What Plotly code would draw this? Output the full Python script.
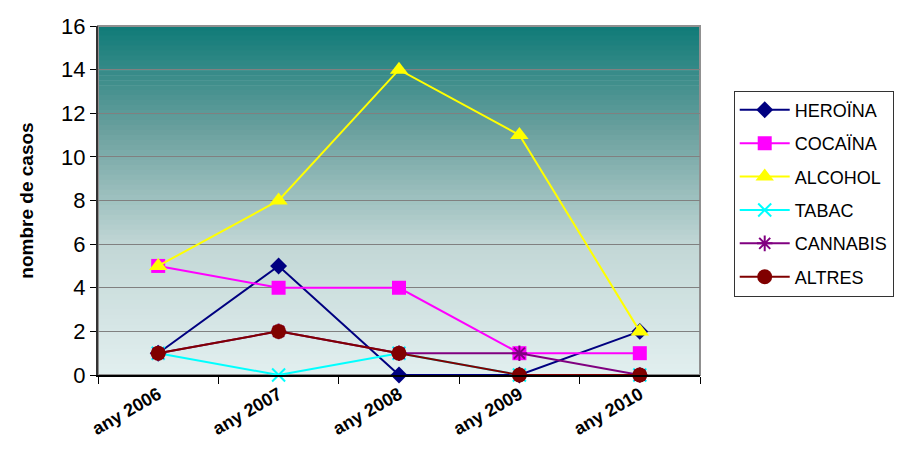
import plotly.graph_objects as go

anys = ["any 2006", "any 2007", "any 2008", "any 2009", "any 2010"]
heroina = [1, 5, 0, 0, 2]
cocaina = [5, 4, 4, 1, 1]
alcohol = [5, 8, 14, 11, 2]
tabac = [1, 0, 1, 0, 0]
cannabis = [1, 2, 1, 1, 0]
altres = [1, 2, 1, 0, 0]

series = [
    ("HEROÏNA", heroina, "#000080", "diamond", 13, None),
    ("COCAÏNA", cocaina, "#ff00ff", "square", 14, None),
    ("ALCOHOL", alcohol, "#ffff00", "triangle-up", 16, None),
    ("TABAC", tabac, "#00ffff", "x-thin", 13, 2),
    ("CANNABIS", cannabis, "#800080", "asterisk", 13, 2),
    ("ALTRES", altres, "#800000", "circle", 15, None),
]

fig = go.Figure()
for name, vals, col, sym, size, lw in series:
    mk = dict(symbol=sym, size=size, color=col)
    if lw:
        mk["line"] = dict(color=col, width=lw)
    fig.add_trace(go.Scatter(x=anys, y=vals, name=name, mode="lines+markers",
                             legendgroup=name,
                             line=dict(color=col, width=2), marker=mk,
                             cliponaxis=False))

# gradient background for the plot area
stops = [(0.0, (14, 122, 119)), (0.3, (106, 160, 158)), (0.63, (194, 215, 214)), (1.0, (226, 239, 239))]


def grad(t):
    for (t0, c0), (t1, c1) in zip(stops, stops[1:]):
        if t <= t1:
            f = (t - t0) / (t1 - t0)
            return "rgb(%d,%d,%d)" % tuple(round(a + (b - a) * f) for a, b in zip(c0, c1))
    return "rgb(%d,%d,%d)" % stops[-1][1]


n = 70
shapes = []
for i in range(n):
    shapes.append(dict(type="rect", xref="x domain", yref="y domain", layer="below",
                       x0=0, x1=1, y0=1 - (i + 1) / n, y1=1 - i / n + 0.002,
                       fillcolor=grad((i + 0.5) / n), line=dict(width=0)))
shapes.append(dict(type="rect", xref="x domain", yref="y domain", layer="below",
                   x0=0, x1=1, y0=0, y1=1, line=dict(color="#909090", width=2)))

# the page body has an 8px margin, so the figure is shrunk by that much
fig.update_layout(
    width=910, height=451,
    margin=dict(l=90, r=218, t=18, b=84),
    paper_bgcolor="white", plot_bgcolor="rgba(0,0,0,0)",
    font=dict(family="Arial, Liberation Sans, sans-serif", color="black"),
    shapes=shapes,
    showlegend=True,
    legend=dict(x=1.056, y=0.815, xanchor="left", yanchor="top",
                bordercolor="#333333", borderwidth=1, bgcolor="white",
                font=dict(size=18), tracegroupgap=7, itemwidth=50),
)
fig.update_xaxes(type="category", range=[-0.5, 4.5], showgrid=False, ticks="outside",
                 tickson="boundaries", ticklen=7, tickcolor="black", showline=True,
                 linecolor="black", linewidth=2, tickangle=-30, automargin=False,
                 tickfont=dict(size=18, weight="bold"),
                 layer="above traces")
fig.update_yaxes(range=[0, 16], dtick=2, showgrid=True, gridcolor="#808080", gridwidth=1,
                 ticks="outside", ticklen=6, tickcolor="black", showline=True, linecolor="#333333",
                 linewidth=2, zeroline=False, tickfont=dict(size=22), automargin=False,
                 title=dict(text="<b>nombre de casos</b>", font=dict(size=19), standoff=22))

fig.write_html("out.html")
